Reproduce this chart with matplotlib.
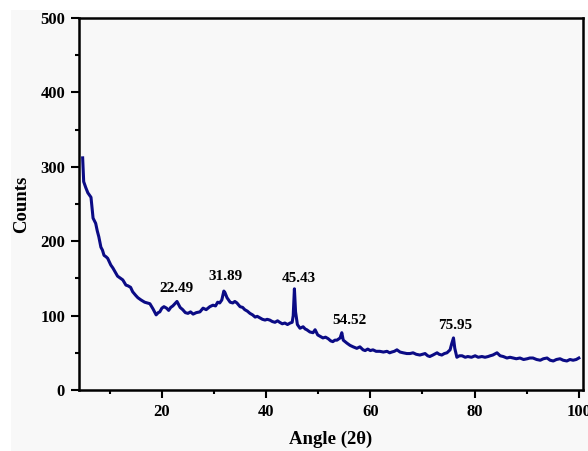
import matplotlib
matplotlib.use("Agg")
import matplotlib.pyplot as plt
from matplotlib.patches import Rectangle
from matplotlib.ticker import MultipleLocator

# XRD 패턴
angle = [4.8, 5.0, 5.4, 5.8, 6.1, 6.4, 6.8, 7.3, 7.6, 7.9, 8.3, 8.6, 8.9, 9.3, 9.6,
         10.2, 10.6, 11.0, 11.5, 11.9, 12.5, 13.1, 13.5, 14.0, 14.4, 15.0, 15.4, 16.0,
         16.7, 17.2, 17.7, 18.3, 18.9, 19.3, 19.6, 20.0, 20.4, 20.9, 21.3, 21.7, 22.1,
         22.49, 22.9, 23.5, 24.0, 24.5, 25.0, 25.5, 26.0, 26.6, 27.3, 27.9, 28.5, 29.2,
         29.8, 30.3, 30.7, 31.1, 31.5, 31.89, 32.1, 32.5, 33.1, 33.6, 34.0, 34.4, 35.0,
         35.5, 35.9, 36.4, 36.9, 37.4, 37.9, 38.3, 38.8, 39.3, 39.8, 40.2, 40.7, 41.2,
         41.7, 42.2, 42.6, 43.1, 43.6, 44.1, 44.6, 45.0, 45.2, 45.43, 45.65, 46.0, 46.5,
         47.1, 47.5, 47.8, 48.4, 49.0, 49.4, 49.9, 50.4, 50.9, 51.4, 51.9, 52.4, 52.8,
         53.2, 53.6, 54.2, 54.52, 54.8, 55.5, 56.1, 56.7, 57.4, 58.0, 58.6, 59.0, 59.5,
         60.0, 60.5, 61.1, 61.8, 62.5, 63.2, 63.7, 64.1, 64.6, 65.1, 65.7, 66.3, 67.0,
         67.6, 68.2, 68.8, 69.5, 70.0, 70.5, 71.0, 71.4, 72.0, 72.8, 73.2, 73.7, 74.2,
         74.7, 75.3, 75.6, 75.95, 76.2, 76.6, 77.1, 77.6, 78.2, 78.7, 79.4, 80.1, 80.7,
         81.4, 82.0, 82.6, 83.0, 83.5, 84.3, 84.9, 85.5, 86.2, 86.8, 87.4, 88.0, 88.7,
         89.4, 90.1, 90.6, 91.2, 91.9, 92.6, 93.2, 93.9, 94.5, 95.1, 95.7, 96.4, 97.0,
         97.7, 98.3, 98.9, 99.5, 100.0]
counts = [312, 280, 272, 265, 262, 259, 231, 224, 214, 206, 192, 188, 181, 179, 177,
          168, 164, 159, 153, 151, 148, 141, 140, 138, 132, 127, 124, 121,
          118, 117, 116, 109, 101, 104, 105, 110, 112, 110, 107, 111, 113,
          116, 119, 111, 108, 104, 103, 105, 102, 104, 105, 110, 108, 112,
          114, 113, 118, 117, 121, 133, 131, 124, 118, 117, 119, 117, 112,
          111, 108, 106, 103, 101, 98, 99, 97, 95, 94, 95, 94, 92,
          91, 93, 91, 89, 90, 88, 90, 91, 100, 136, 105, 88, 83,
          85, 82, 81, 78, 77, 81, 74, 72, 70, 71, 69, 66, 65,
          67, 67, 70, 77, 67, 63, 60, 58, 56, 58, 54, 53, 55,
          53, 54, 52, 52, 51, 52, 50, 51, 52, 54, 51, 50, 49,
          49, 50, 48, 47, 48, 49, 46, 45, 47, 50, 48, 47, 49,
          50, 54, 62, 70, 56, 44, 46, 46, 44, 45, 44, 46, 44,
          45, 44, 45, 46, 47, 50, 46, 45, 43, 44, 43, 42, 43,
          41, 42, 43, 43, 41, 40, 42, 43, 40, 39, 41, 42, 40,
          39, 41, 40, 41, 43]

peak_labels = ["22.49", "31.89", "45.43", "54.52", "75.95"]
label_x = [22.8, 32.3, 46.2, 56.0, 76.2]
label_y = [137, 152, 150, 94, 87]

plt.rcParams["font.family"] = ["Liberation Serif", "DejaVu Serif"]
plt.rcParams["font.weight"] = "bold"

fig = plt.figure(figsize=(5.88, 4.51), dpi=100)
fig.patch.set_facecolor("white")
# 배경의 옅은 회색 영역
fig.patches.append(Rectangle((11 / 588, 0), 1, 1 - 10 / 451, transform=fig.transFigure,
                             facecolor="#f8f8f8", edgecolor="none", zorder=-10))

ax = fig.add_axes([79 / 588, 61 / 451, 504 / 588, 372 / 451])
ax.set_facecolor("none")

ax.plot(angle, counts, color="#0b0b85", linewidth=2.2)

for lx, ly, lab in zip(label_x, label_y, peak_labels):
    ax.text(lx, ly, lab, ha="center", va="center", fontsize=11, fontweight="bold")

ax.set_xlim(4.1, 100.8)
ax.set_ylim(0, 500)
ax.xaxis.set_major_locator(MultipleLocator(20))
ax.xaxis.set_minor_locator(MultipleLocator(10))
ax.yaxis.set_major_locator(MultipleLocator(100))
ax.yaxis.set_minor_locator(MultipleLocator(50))

ax.tick_params(which="both", direction="out", top=False, right=False, width=1.5,
               labelsize=12)
ax.tick_params(which="major", length=6, pad=4)
ax.tick_params(which="minor", length=3)
for lab in ax.get_xticklabels() + ax.get_yticklabels():
    lab.set_fontweight("bold")
for sp in ax.spines.values():
    sp.set_linewidth(1.8)

ax.set_xlabel("Angle (2θ)", fontsize=13.5, fontweight="bold", labelpad=8)
ax.set_ylabel("Counts", fontsize=13.5, fontweight="bold", labelpad=7)

fig.savefig("out.png", dpi=100)
